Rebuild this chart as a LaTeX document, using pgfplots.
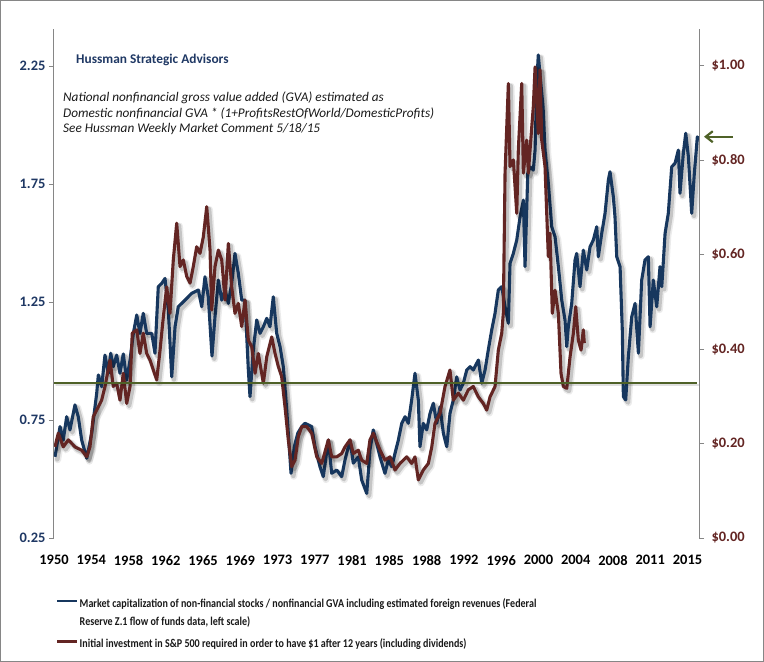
\documentclass[border=0pt]{standalone}
\usepackage{pgfplots}
\pgfplotsset{compat=1.18}
\usepackage{pgfplotstable}
\usepackage{fontspec}
\setmainfont{Carlito}
\newfontfamily\legfont[FakeStretch=0.84]{Carlito}
\usetikzlibrary{arrows.meta}
\definecolor{bluS}{RGB}{23,55,94}
\definecolor{redS}{RGB}{99,37,35}
\definecolor{grnS}{RGB}{79,98,40}
\definecolor{axisgray}{RGB}{134,134,134}
\definecolor{lblblue}{RGB}{31,56,100}
\definecolor{lblred}{RGB}{99,37,35}

\pgfplotstableread{
year val
1950.10 0.594
1950.62 0.722
1950.95 0.665
1951.30 0.764
1951.64 0.708
1952.15 0.814
1952.49 0.764
1952.84 0.665
1953.36 0.588
1953.87 0.694
1954.38 0.863
1954.55 0.941
1954.89 0.891
1955.23 1.025
1955.57 0.948
1955.82 1.033
1956.08 0.976
1956.43 1.025
1956.77 0.948
1957.11 1.030
1957.46 0.919
1957.80 1.004
1958.14 1.117
1958.49 1.195
1958.82 1.117
1959.16 1.202
1959.51 1.117
1960.03 1.117
1960.36 1.033
1960.70 1.315
1961.05 1.329
1961.39 1.350
1961.73 1.216
1962.08 0.933
1962.42 1.145
1962.75 1.230
1963.44 1.258
1964.13 1.287
1964.81 1.301
1965.16 1.230
1965.49 1.357
1965.83 1.272
1966.21 1.021
1966.52 1.188
1966.86 1.343
1967.21 1.258
1967.55 1.301
1967.89 1.244
1968.23 1.329
1968.57 1.456
1968.91 1.372
1969.26 1.258
1969.60 1.258
1969.94 0.962
1970.11 0.849
1970.45 1.047
1970.80 1.174
1971.14 1.117
1971.48 1.145
1971.83 1.181
1972.16 1.145
1972.50 1.272
1972.85 1.117
1973.19 1.061
1973.53 0.976
1973.88 0.792
1974.32 0.524
1974.66 0.637
1975.01 0.694
1975.42 0.722
1975.76 0.736
1976.44 0.722
1976.78 0.637
1977.29 0.552
1977.63 0.510
1978.15 0.665
1978.49 0.524
1979.01 0.538
1979.52 0.510
1979.86 0.581
1980.37 0.665
1980.71 0.567
1981.22 0.594
1981.57 0.496
1982.09 0.439
1982.42 0.623
1982.76 0.708
1983.45 0.594
1983.96 0.524
1984.30 0.581
1984.65 0.552
1984.99 0.609
1985.33 0.665
1985.68 0.736
1986.02 0.764
1986.35 0.736
1986.70 0.835
1987.04 0.948
1987.38 0.835
1987.55 0.637
1987.89 0.736
1988.24 0.708
1988.58 0.778
1988.92 0.821
1989.27 0.736
1989.61 0.806
1989.95 0.694
1990.30 0.637
1990.63 0.778
1990.97 0.835
1991.32 0.933
1991.66 0.877
1992.00 0.906
1992.35 0.962
1992.69 0.976
1993.02 0.962
1993.54 1.004
1993.89 0.906
1994.23 0.962
1994.56 1.047
1994.91 1.131
1995.25 1.202
1995.59 1.301
1995.94 1.315
1996.28 1.230
1996.62 1.160
1996.79 1.414
1997.13 1.456
1997.48 1.513
1997.82 1.611
1998.16 1.682
1998.33 1.400
1998.61 1.795
1998.84 1.823
1999.18 1.809
1999.36 1.894
1999.53 2.177
1999.69 2.297
1999.97 2.169
2000.18 2.076
2000.38 1.894
2000.72 1.753
2001.07 1.569
2001.41 1.527
2001.75 1.400
2002.10 1.258
2002.43 1.174
2002.61 1.061
2002.77 1.145
2003.12 1.244
2003.46 1.428
2003.63 1.456
2003.97 1.315
2004.31 1.470
2004.66 1.386
2005.00 1.484
2005.34 1.513
2005.69 1.569
2005.85 1.442
2006.20 1.541
2006.54 1.626
2006.88 1.767
2007.05 1.802
2007.39 1.696
2007.56 1.611
2007.74 1.442
2008.08 1.400
2008.31 1.131
2008.42 0.849
2008.66 0.835
2008.93 1.018
2009.28 1.188
2009.62 1.244
2009.96 1.033
2010.30 1.343
2010.64 1.428
2010.98 1.442
2011.16 1.145
2011.49 1.343
2011.84 1.230
2012.18 1.400
2012.36 1.315
2012.70 1.541
2013.03 1.626
2013.38 1.823
2013.72 1.838
2014.06 1.894
2014.23 1.711
2014.57 1.880
2014.82 1.965
2015.09 1.866
2015.43 1.626
2015.70 1.795
2016.01 1.950
2016.18 1.936
}\bluedata

\pgfplotstableread{
year val
1950.10 0.193
1950.44 0.222
1950.95 0.193
1951.47 0.208
1952.15 0.193
1952.84 0.186
1953.36 0.172
1953.69 0.193
1954.03 0.257
1954.55 0.278
1954.89 0.292
1955.23 0.321
1955.75 0.377
1956.08 0.321
1956.43 0.328
1956.77 0.292
1957.11 0.349
1957.46 0.285
1957.80 0.321
1958.03 0.434
1958.49 0.441
1958.82 0.391
1959.16 0.434
1959.51 0.391
1959.85 0.377
1960.19 0.356
1960.54 0.335
1960.88 0.398
1961.22 0.469
1961.56 0.532
1961.90 0.476
1962.24 0.589
1962.59 0.667
1962.93 0.575
1963.27 0.589
1963.62 0.554
1963.96 0.540
1964.29 0.575
1964.64 0.617
1964.98 0.603
1965.32 0.638
1965.67 0.702
1966.01 0.610
1966.18 0.483
1966.52 0.575
1966.86 0.610
1967.21 0.589
1967.55 0.504
1967.89 0.624
1968.23 0.532
1968.57 0.476
1968.91 0.497
1969.26 0.448
1969.60 0.504
1969.94 0.419
1970.29 0.405
1970.63 0.349
1970.96 0.391
1971.48 0.328
1971.83 0.384
1972.34 0.426
1972.68 0.391
1973.02 0.363
1973.36 0.342
1973.70 0.278
1974.04 0.208
1974.39 0.151
1974.73 0.165
1975.07 0.215
1975.42 0.236
1975.93 0.236
1976.44 0.222
1976.96 0.172
1977.47 0.158
1978.15 0.208
1978.49 0.172
1979.01 0.172
1979.52 0.179
1979.86 0.193
1980.37 0.208
1980.71 0.179
1981.22 0.186
1981.57 0.165
1982.09 0.158
1982.42 0.208
1982.76 0.222
1983.45 0.186
1983.96 0.165
1984.48 0.172
1984.99 0.144
1985.50 0.158
1986.19 0.172
1986.70 0.158
1987.04 0.172
1987.38 0.123
1987.89 0.144
1988.41 0.158
1988.76 0.193
1989.09 0.243
1989.61 0.264
1990.12 0.321
1990.63 0.356
1990.97 0.292
1991.49 0.307
1992.00 0.292
1992.51 0.314
1993.02 0.321
1993.54 0.299
1994.05 0.285
1994.40 0.271
1994.74 0.299
1995.25 0.321
1995.59 0.398
1995.94 0.434
1996.10 0.476
1996.28 0.773
1996.62 0.963
1996.79 0.787
1997.13 0.801
1997.48 0.688
1997.64 0.822
1997.99 0.963
1998.16 0.773
1998.50 0.843
1998.67 0.773
1999.02 0.871
1999.18 0.914
1999.36 0.998
1999.69 0.857
1999.87 0.992
2000.04 0.843
2000.38 0.787
2000.72 0.596
2000.89 0.646
2001.13 0.476
2001.41 0.525
2001.75 0.476
2002.02 0.349
2002.26 0.321
2002.61 0.317
2002.95 0.384
2003.29 0.434
2003.53 0.490
2003.80 0.419
2004.08 0.398
2004.31 0.441
2004.41 0.413
}\reddata

\pgfplotstableread{
year val
1950.00 0.329
2016.00 0.329
}\greendata

\tikzset{
  shad/.style={draw=black, opacity=0.16, line width=4.6bp, xshift=2.3bp, yshift=-2.5bp, line join=round, line cap=round},
  shad2/.style={draw=black, opacity=0.08, line width=7bp, xshift=2.7bp, yshift=-2.9bp, line join=round, line cap=round},
}
\pgfplotsset{
  commonax/.style={
    at={(0,0)}, anchor=south west, scale only axis,
    width=645bp, height=509bp,
    xmin=1950, xmax=2016.18,
    tick align=outside, major tick length=5bp,
    y axis line style={draw=axisgray, line width=1bp},
    ytick style={draw=axisgray, line width=1bp},
    tick label style={font=\fontsize{14.5}{17}\selectfont\bfseries},
  },
}

\begin{document}
\begin{tikzpicture}
\begin{axis}[
  commonax,
  ymin=0.25, ymax=2.407,
  axis y line*=left, axis x line*=bottom,
  x axis line style={draw=none}, xtick style={draw=none},
  xtick={1950,1953.824,1957.647,1961.471,1965.294,1969.118,1972.941,1976.765,1980.588,1984.412,1988.235,1992.059,1995.882,1999.706,2003.529,2007.353,2011.176,2015},
  xticklabels={1950,1954,1958,1962,1965,1969,1973,1977,1981,1985,1988,1992,1996,2000,2004,2008,2011,2015},
  xticklabel style={yshift=-9bp, text=black},
  ytick={0.25,0.75,1.25,1.75,2.25},
  yticklabels={0.25,0.75,1.25,1.75,2.25},
  yticklabel style={text=lblblue},
]
\addplot[shad2, forget plot] table[x=year,y=val]{\bluedata};
\addplot[shad, forget plot] table[x=year,y=val]{\bluedata};
\addplot[bluS, line width=3.1bp, line join=round, forget plot] table[x=year,y=val]{\bluedata};
\end{axis}

\begin{axis}[
  commonax,
  ymin=0, ymax=1.0784,
  axis y line*=right, axis x line=none,
  ytick={0,0.2,0.4,0.6,0.8,1.0},
  yticklabels={\$0.00,\$0.20,\$0.40,\$0.60,\$0.80,\$1.00},
  yticklabel style={text=lblred, xshift=4bp},
  legend style={at={(0.003,-0.1165)}, anchor=north west, draw=none, fill=none, inner sep=0pt,
    font=\legfont\fontsize{12}{14}\selectfont\bfseries, row sep=3.7bp,
    nodes={inner sep=1bp, text height=9bp, text depth=3bp, text=black!90}},
  legend cell align=left,
  legend image code/.code={\draw[#1] (0bp,3.6bp) -- (20bp,3.6bp);},
]
\addplot[shad2, forget plot] table[x=year,y=val]{\reddata};
\addplot[shad, forget plot] table[x=year,y=val]{\reddata};
\addplot[redS, line width=3.1bp, line join=round, forget plot] table[x=year,y=val]{\reddata};
\addplot[shad, line width=2.4bp, opacity=0.12, forget plot] table[x=year,y=val]{\greendata};
\addplot[grnS, line width=2bp, forget plot] table[x=year,y=val]{\greendata};
\addlegendimage{bluS, line width=2.6bp}
\addlegendentry{Market capitalization of non-financial stocks / nonfinancial GVA including estimated foreign revenues (Federal}
\addlegendimage{empty legend}
\addlegendentry{Reserve Z.1 flow of funds data, left scale)}
\addlegendimage{redS, line width=2.6bp, yshift=-5bp}
\addlegendentry{\raisebox{-5bp}{Initial investment in S\&P 500 required in order to have \$1 after 12 years (including dividends)}}
\end{axis}

\node[anchor=base west, inner sep=0pt, font=\fontsize{13.4}{15}\selectfont\bfseries, text=lblblue] at (22bp,474.5bp) {Hussman Strategic Advisors};
\node[anchor=base west, inner sep=0pt, font=\fontsize{13.3}{15}\selectfont\itshape, text=black!90] at (9bp,436bp) {National nonfinancial gross value added (GVA) estimated as};
\node[anchor=base west, inner sep=0pt, font=\fontsize{13.3}{15}\selectfont\itshape, text=black!90] at (9bp,420.5bp) {Domestic nonfinancial GVA * (1+ProfitsRestOfWorld/DomesticProfits)};
\node[anchor=base west, inner sep=0pt, font=\fontsize{13.3}{15}\selectfont\itshape, text=black!90] at (9bp,405bp) {See Hussman Weekly Market Comment 5/18/15};

\draw[grnS, line width=2.2bp, -{Straight Barb[length=7bp,width=11bp]}] (679bp,401.3bp) -- (650bp,401.3bp);

\draw[axisgray, line width=1.3bp] (-53.35bp,-123.35bp) rectangle (709.35bp,537.35bp);
\pgfresetboundingbox
\useasboundingbox (-54bp,-124bp) rectangle (710bp,538bp);
\end{tikzpicture}
\end{document}
